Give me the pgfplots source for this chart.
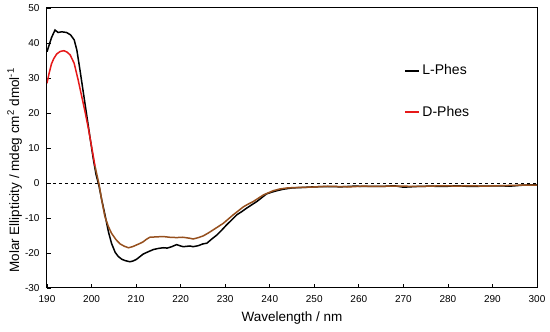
\documentclass[border=0pt]{standalone}
\usepackage{fontspec}
\setmainfont{Liberation Sans}
\usepackage{pgfplots}
\pgfplotsset{compat=1.18}
\definecolor{dred}{RGB}{230,25,25}
\definecolor{dbrown}{RGB}{150,80,30}
\begin{document}
\begin{tikzpicture}
\begin{axis}[
  scale only axis, width=490pt, height=280pt,
  xmin=190, xmax=300, ymin=-30, ymax=50,
  xtick={190,200,...,300}, ytick={-30,-20,...,50},
  tick align=inside, xtick pos=bottom, ytick pos=left,
  major tick length=4pt,
  axis line style={line width=1pt}, tick style={black, line width=0.8pt},
  /pgf/number format/assume math mode=true,
  ticklabel style={font=\fontsize{10}{12}\selectfont},
  xticklabel style={yshift=-4pt}, yticklabel style={xshift=-4pt},
  xlabel={Wavelength / nm},
  ylabel={Molar Ellipticity / mdeg cm\textsuperscript{2} dmol\textsuperscript{-1}},
  label style={font=\fontsize{13.5}{15}\selectfont},
  xlabel style={yshift=-2pt},
  ylabel style={at={(axis description cs:-0.066,0.42)}, anchor=center},
  legend style={draw=none, fill=none, at={(0.729,0.805)}, anchor=north west,
    font=\fontsize{14}{16}\selectfont, row sep=26pt, inner sep=0pt},
  legend cell align=left,
  legend image code/.code={\draw[#1, line width=2pt] (0pt,0pt) -- (14pt,0pt);},
]
\addplot[black, dashed, line width=0.7pt, forget plot] coordinates {(190,0) (300,0)};
\addplot[black, line width=1.5pt] coordinates {
(190,37.5)(190.5,39.5)(191,41.5)(191.8,43.7)(192.5,43.0)(193.3,43.2)(194.4,43.0)(195.3,42.3)
(196.1,40.9)(196.7,38)(197.4,32.3)(198.2,25.5)(198.9,19.5)(199.6,13.5)(200.4,6.8)(201.0,2.5)
(201.7,-1.0)(202.3,-4.9)(203.0,-9.0)(203.8,-14.0)(204.5,-17.3)(205.3,-19.8)(206.0,-21.0)
(206.8,-21.8)(207.6,-22.2)(208.6,-22.5)(209.3,-22.3)(210.1,-21.8)(211.0,-20.9)(211.6,-20.3)
(212.8,-19.6)(213.9,-19.0)(215.0,-18.7)(216.1,-18.5)(217.0,-18.6)(218.0,-18.2)(219.1,-17.6)
(220.0,-18.0)(220.6,-18.2)(222.1,-18.0)(222.8,-18.2)(224.0,-17.9)(225.0,-17.4)(225.9,-17.2)
(227.0,-16.0)(228.1,-14.9)(229.2,-13.5)(230.3,-12.0)(231.5,-10.5)(232.6,-9.1)(233.7,-8.2)
(234.8,-7.2)(236.0,-6.2)(237.1,-5.3)(238.2,-4.2)(239.3,-3.1)(240.5,-2.6)(241.6,-2.2)
(243,-1.8)(245,-1.4)(247,-1.3)(250,-1.1)(253,-1.0)(256,-1.1)(259,-0.9)(262,-1.0)(265,-1.0)
(268,-0.8)(270,-1.2)(273,-1.0)(276,-0.9)(279,-1.0)(282,-0.8)(285,-1.0)(288,-0.9)(291,-0.8)
(294,-0.9)(297,-0.6)(300,-0.5)};
\addlegendentry{L-Phes}
\addplot[dred, line width=1.5pt] coordinates {
(190,28.5)(190.5,31.5)(191,34.0)(191.5,35.5)(192.2,36.9)(193.0,37.6)(193.8,37.8)(194.5,37.4)
(195.2,36.6)(196.1,34.2)(197,29.4)(197.8,24.7)(198.5,20.6)(199.3,15.5)(200.0,10.5)(200.8,4.7)};
\addlegendentry{D-Phes}
\addplot[dbrown, line width=1.5pt, forget plot] coordinates {
(200.8,4.7)(201.7,-0.5)(202.3,-5.0)(203.0,-9.6)(203.8,-12.5)(204.5,-14.4)(205.5,-16.2)
(206.4,-17.4)(207.4,-18.1)(208.3,-18.5)(209.2,-18.2)(210.1,-17.7)(211.0,-17.2)(211.6,-16.8)
(212.3,-16.1)(213.1,-15.5)(214.5,-15.4)(216.1,-15.3)(217.5,-15.5)(219.1,-15.6)(220.5,-15.5)
(222.1,-15.8)(222.8,-16.0)(224.0,-15.6)(225.1,-15.1)(226.2,-14.3)(227.3,-13.4)(228.4,-12.5)
(229.6,-11.5)(230.7,-10.3)(231.8,-9.1)(233.0,-7.9)(234.1,-6.8)(235.2,-6.0)(236.3,-5.3)
(237.5,-4.3)(238.6,-3.4)(239.7,-2.8)(240.8,-2.2)(242.3,-1.7)(244,-1.4)(246,-1.3)(249,-1.2)
(252,-1.0)(255,-1.0)(258,-1.1)(261,-0.9)(264,-1.0)(267,-0.9)(270,-0.9)(273,-1.0)(276,-0.9)
(279,-0.8)(282,-0.9)(285,-0.8)(288,-0.9)(291,-0.8)(294,-0.7)(297,-0.6)(300,-0.6)};
\end{axis}
\pgfresetboundingbox
\path[use as bounding box] ([shift={(-47pt,-44pt)}]current axis.south west) rectangle ([shift={(13pt,8pt)}]current axis.north east);
\end{tikzpicture}
\end{document}
